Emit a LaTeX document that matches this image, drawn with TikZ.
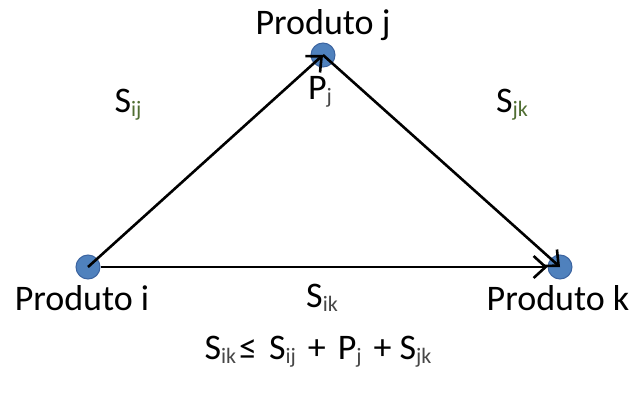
\documentclass[tikz,border=0pt]{standalone}
\usepackage{fontspec}
\setmainfont{Carlito}
\usetikzlibrary{arrows.meta}
\definecolor{dotblue}{RGB}{79,129,189}
\definecolor{dotedge}{RGB}{60,100,160}
\definecolor{subgreen}{RGB}{80,110,50}
\definecolor{subgray}{RGB}{70,70,70}
\tikzset{
  dot/.style={circle,fill=dotblue,draw=dotedge,line width=1pt,minimum size=24pt,inner sep=0pt},
  lbl/.style={font=\fontsize{36}{40}\selectfont,inner sep=0pt},
  conn/.style={line width=2.6pt,-{Straight Barb[length=12pt,width=22pt,line width=2.6pt]}},
}
\newcommand{\sbg}[1]{\raisebox{-4pt}{\fontsize{22}{24}\selectfont\textcolor{subgreen}{#1}}}
\newcommand{\sbk}[1]{\raisebox{-4pt}{\fontsize{22}{24}\selectfont\textcolor{subgray}{#1}}}
\begin{document}
\begin{tikzpicture}[x=1pt,y=-1pt]
\useasboundingbox (0,0) rectangle (636,396);
\node[dot] (i) at (88,267) {};
\node[dot] (j) at (323,55) {};
\node[dot] (k) at (560,267) {};
\draw[conn] (i.center) -- (j.center);
\draw[conn] (j.center) -- (k.center);
\draw[conn] (i.east) -- (k.west);
\node[lbl] (ti) at (82,298) {Produto i};
\node[lbl] (tj) at (323,25) {Produto j};
\node[lbl] (tk) at (558,298) {Produto k};
\node[lbl] (sij) at (128,105) {S\sbg{ij}};
\node[lbl] (pj) at (320,92) {P\sbk{j}};
\node[lbl] (sjk) at (512,105) {S\sbg{jk}};
\node[lbl] (sik) at (322,298) {S\sbk{ik}};
\node[lbl] (eq) at (318,352) {S\sbk{ik}\hspace{3pt}≤\hspace{12pt}S\sbk{ij}\hspace{12pt}+\hspace{12pt}P\sbk{j}\hspace{12pt}+\hspace{8pt}S\sbk{jk}};
\end{tikzpicture}
\end{document}
